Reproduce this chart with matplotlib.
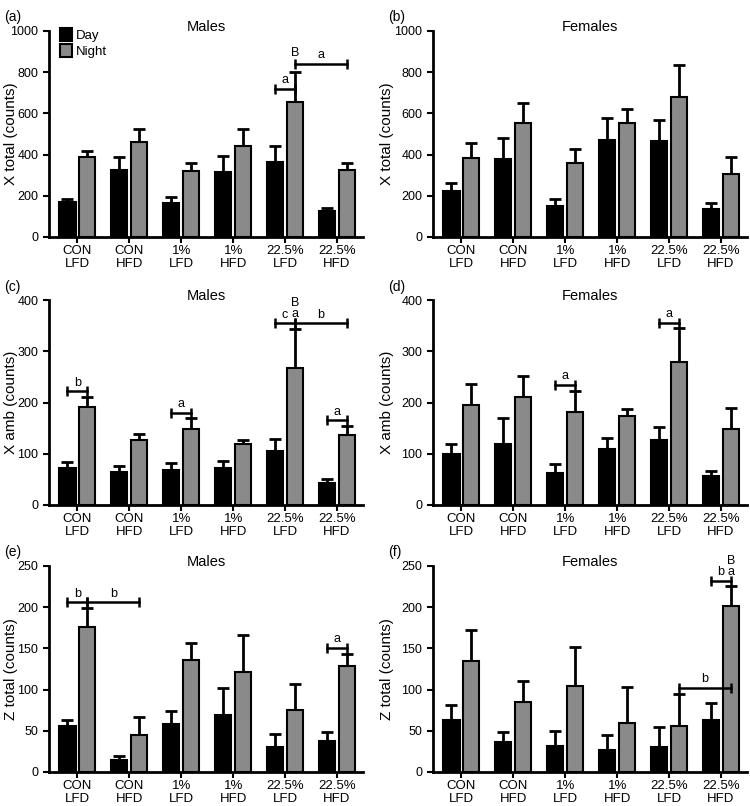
import numpy as np
import matplotlib
matplotlib.use("Agg")
import matplotlib.pyplot as plt

plt.rcParams["font.family"] = ["Liberation Sans", "DejaVu Sans"]

groups = ["CON\nLFD", "CON\nHFD", "1%\nLFD", "1%\nHFD", "22.5%\nLFD", "22.5%\nHFD"]

# (a) males, X total
a_day = [170, 325, 165, 315, 365, 128]
a_day_sem = [15, 65, 30, 80, 75, 15]
a_night = [390, 462, 322, 440, 657, 325]
a_night_sem = [28, 60, 36, 85, 143, 33]
# (b) females, X total
b_day = [225, 378, 150, 472, 465, 137]
b_day_sem = [37, 100, 33, 105, 103, 28]
b_night = [385, 553, 360, 553, 680, 305]
b_night_sem = [70, 97, 68, 70, 155, 85]
# (c) males, X amb
c_day = [72, 64, 68, 73, 105, 43]
c_day_sem = [11, 12, 14, 13, 24, 8]
c_night = [192, 126, 149, 120, 268, 137]
c_night_sem = [18, 13, 21, 7, 75, 18]
# (d) females, X amb
d_day = [100, 120, 62, 110, 127, 57]
d_day_sem = [20, 50, 18, 20, 26, 10]
d_night = [196, 210, 182, 173, 280, 148]
d_night_sem = [40, 42, 40, 14, 65, 41]
# (e) males, Z total
e_day = [56, 14, 58, 69, 30, 38]
e_day_sem = [7, 6, 16, 33, 16, 10]
e_night = [176, 45, 136, 121, 75, 129]
e_night_sem = [23, 22, 21, 45, 32, 14]
# (f) females, Z total
f_day = [63, 36, 32, 27, 30, 63]
f_day_sem = [18, 12, 18, 18, 24, 21]
f_night = [135, 85, 104, 60, 56, 202]
f_night_sem = [37, 25, 48, 43, 39, 24]

# brackets: (group1, bar1, group2, bar2, y, label)   bar: 0=day 1=night
a_brackets = [(4, 0, 4, 1, 720, "a"), (4, 1, 5, 1, 840, "a")]
a_letters = [(4, 1, 893, "B")]
b_brackets = []
b_letters = []
c_brackets = [(0, 0, 0, 1, 222, "b"), (2, 0, 2, 1, 180, "a"), (5, 0, 5, 1, 166, "a"),
              (4, 0, 4, 1, 355, "c"), (4, 1, 5, 1, 355, "b")]
c_letters = [(4, 1, 374, "a"), (4, 1, 395, "B")]
d_brackets = [(2, 0, 2, 1, 235, "a"), (4, 0, 4, 1, 356, "a")]
d_letters = []
e_brackets = [(0, 0, 0, 1, 206, "b"), (0, 1, 1, 1, 206, "b"), (5, 0, 5, 1, 151, "a")]
e_letters = []
f_brackets = [(5, 0, 5, 1, 232, "b"), (4, 1, 5, 1, 102, "b")]
f_letters = [(5, 1, 243, "a"), (5, 1, 256, "B")]

W = 0.31
OFF = 0.19
GRAY = "#8a8a8a"

fig = plt.figure(figsize=(7.5, 8.06), dpi=100)

def panel(rect, tag, title, ylabel, ymax, step, day, day_sem, night, night_sem,
          brackets, letters, label_x, legend=False):
    ax = fig.add_axes(rect)
    x = np.arange(len(groups))
    ax.bar(x - OFF, day, W, color="black", edgecolor="black", lw=1.5, label="Day", zorder=2)
    ax.bar(x + OFF, night, W, color=GRAY, edgecolor="black", lw=1.5, label="Night", zorder=2)
    ax.errorbar(x - OFF, day, yerr=[np.zeros(len(day)), day_sem], fmt="none", ecolor="black",
                elinewidth=2, capsize=4, capthick=2, zorder=1)
    ax.errorbar(x + OFF, night, yerr=[np.zeros(len(night)), night_sem], fmt="none", ecolor="black",
                elinewidth=2, capsize=4, capthick=2, zorder=1)
    for g1, s1, g2, s2, y, lab in brackets:
        x1 = g1 + (OFF if s1 else -OFF)
        x2 = g2 + (OFF if s2 else -OFF)
        ax.plot([x1, x2], [y, y], color="black", lw=1.8, clip_on=False, zorder=3)
        ax.plot([x1, x2], [y, y], ls="none", marker="|", ms=7, mew=1.8, color="black",
                clip_on=False, zorder=3)
        ax.text((x1 + x2) / 2, y + ymax * 0.012, lab, ha="center", va="bottom", fontsize=9)
    for g, s, y, lab in letters:
        xx = g + (OFF if s else -OFF)
        ax.text(xx, y, lab, ha="center", va="center", fontsize=9, clip_on=False)
    ax.set_xlim(-0.55, 5.5)
    ax.set_ylim(0, ymax)
    ax.set_yticks(np.arange(0, ymax + 1, step))
    ax.set_xticks(x)
    ax.set_xticklabels(groups, fontsize=9.5, linespacing=1.1)
    ax.tick_params(axis="y", labelsize=9, width=1.5, length=4)
    ax.tick_params(axis="x", width=1.5, length=4, pad=2)
    for s in ["top", "right"]:
        ax.spines[s].set_visible(False)
    for s in ["left", "bottom"]:
        ax.spines[s].set_linewidth(2)
    ax.set_ylabel(ylabel, fontsize=11)
    ax.yaxis.set_label_coords(label_x, 0.5)
    ax.text(0.5, 1.02, title, transform=ax.transAxes, ha="center", va="center", fontsize=10.5)
    fig.text(rect[0] - 0.06, rect[1] + rect[3] + 0.017, tag, fontsize=10, ha="left", va="center")
    if legend:
        ax.legend(loc="upper left", bbox_to_anchor=(0.02, 1.04), frameon=False, fontsize=9.5,
                  handlelength=0.9, handleheight=1.1, handletextpad=0.3, labelspacing=0.2,
                  borderaxespad=0)
    return ax

LX, RX, AW = 0.065, 0.577, 0.419
LL, RL = -0.097, -0.124
panel([LX, 0.706, AW, 0.2556], "(a)", "Males", "X total (counts)", 1000, 200,
      a_day, a_day_sem, a_night, a_night_sem, a_brackets, a_letters, LL, legend=True)
panel([RX, 0.706, AW, 0.2556], "(b)", "Females", "X total (counts)", 1000, 200,
      b_day, b_day_sem, b_night, b_night_sem, b_brackets, b_letters, RL)
panel([LX, 0.3735, AW, 0.254], "(c)", "Males", "X amb (counts)", 400, 100,
      c_day, c_day_sem, c_night, c_night_sem, c_brackets, c_letters, LL)
panel([RX, 0.3735, AW, 0.254], "(d)", "Females", "X amb (counts)", 400, 100,
      d_day, d_day_sem, d_night, d_night_sem, d_brackets, d_letters, RL)
panel([LX, 0.0422, AW, 0.2556], "(e)", "Males", "Z total (counts)", 250, 50,
      e_day, e_day_sem, e_night, e_night_sem, e_brackets, e_letters, LL)
panel([RX, 0.0422, AW, 0.2556], "(f)", "Females", "Z total (counts)", 250, 50,
      f_day, f_day_sem, f_night, f_night_sem, f_brackets, f_letters, RL)

fig.savefig("out.png", dpi=100)
